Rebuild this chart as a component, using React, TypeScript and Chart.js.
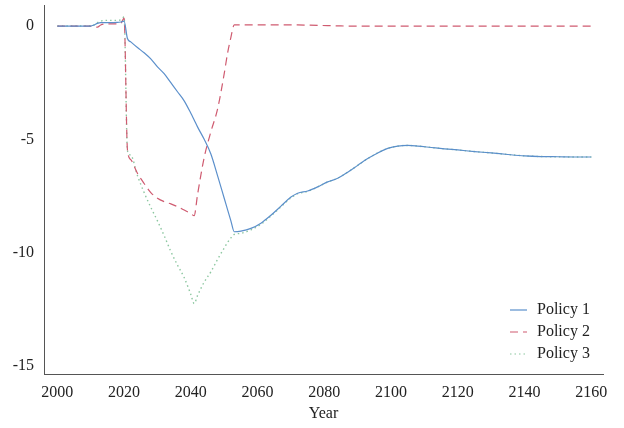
import { useEffect, useRef } from 'react';
import { Chart, registerables, Plugin } from 'chart.js';

Chart.register(...registerables);

const years = [
  2000, 2005, 2010, 2011, 2012, 2013, 2015, 2018, 2019, 2020, 2021, 2022, 2024, 2026, 2028, 2030,
  2032, 2034, 2036, 2038, 2040, 2041, 2042, 2044, 2046, 2048, 2050, 2051, 2052, 2053, 2055, 2058,
  2061, 2064, 2067, 2070, 2072, 2075, 2078, 2081, 2084, 2087, 2090, 2093, 2096, 2099, 2102, 2105,
  2108, 2112, 2116, 2120, 2125, 2130, 2135, 2140, 2145, 2150, 2155, 2160,
];

const policy1 = [
  0, 0, 0, 0.05, 0.12, 0.15, 0.15, 0.16, 0.18, 0.22, -0.55, -0.7, -0.95, -1.18, -1.45, -1.8,
  -2.1, -2.5, -2.9, -3.3, -3.85, -4.15, -4.45, -5.0, -5.65, -6.6, -7.6, -8.1, -8.6, -9.08, -9.05, -8.93,
  -8.7, -8.35, -7.95, -7.55, -7.38, -7.28, -7.1, -6.88, -6.72, -6.45, -6.15, -5.85, -5.6, -5.4, -5.3, -5.27,
  -5.3, -5.36, -5.42, -5.47, -5.54, -5.6, -5.67, -5.73, -5.76, -5.77, -5.78, -5.78,
];

const policy2 = [
  0, 0, 0, -0.02, -0.05, 0.05, 0.1, 0.1, 0.12, 0.35, -5.45, -5.9, -6.5, -6.95, -7.35, -7.6,
  -7.75, -7.85, -7.97, -8.12, -8.28, -8.37, -7.45, -5.8, -4.67, -3.67, -2.1, -1.2, -0.5, 0.05, 0.05, 0.05,
  0.05, 0.05, 0.05, 0.05, 0.05, 0.04, 0.03, 0.02, 0.01, 0, 0, 0, 0, 0, 0, 0,
  0, 0, 0, 0, 0, 0, 0, 0, 0, 0, 0, 0,
];

const policy3 = [
  0, 0, 0, 0.05, 0.15, 0.22, 0.25, 0.25, 0.28, 0.4, -5.5, -5.7, -6.6, -7.35, -8.0, -8.6,
  -9.25, -9.95, -10.55, -11.1, -11.85, -12.25, -11.9, -11.3, -10.85, -10.3, -9.8, -9.55, -9.35, -9.2, -9.15, -9.0,
  -8.75, -8.38, -7.98, -7.58, -7.4, -7.3, -7.1, -6.88, -6.72, -6.45, -6.15, -5.85, -5.6, -5.4, -5.3, -5.27,
  -5.3, -5.36, -5.42, -5.47, -5.54, -5.6, -5.67, -5.73, -5.76, -5.77, -5.78, -5.78,
];

const xTicks = [2000, 2020, 2040, 2060, 2080, 2100, 2120, 2140, 2160];
const yTicks = [-15, -10, -5, 0];

const seriesNames = ['Policy 1', 'Policy 2', 'Policy 3'];
const seriesColors = ['#5b8fcb', '#cf5b70', '#8cc7a0'];
const seriesDash: number[][] = [[], [8, 5], [1.5, 3]];

const FONT = '"Liberation Serif", "Times New Roman", serif';

const pts = (vals: number[]) => years.map((y, i) => ({ x: y, y: vals[i] }));

// legend drawn inside the plot, bottom-right
const innerLegend: Plugin<'line'> = {
  id: 'innerLegend',
  afterDraw(chart) {
    const { ctx } = chart;
    ctx.save();
    ctx.font = `16px ${FONT}`;
    ctx.textBaseline = 'middle';
    seriesNames.forEach((name, i) => {
      const y = 310 + i * 22;
      ctx.strokeStyle = seriesColors[i];
      ctx.lineWidth = 1.2;
      ctx.setLineDash(seriesDash[i]);
      ctx.beginPath();
      ctx.moveTo(510, y);
      ctx.lineTo(527, y);
      ctx.stroke();
      ctx.setLineDash([]);
      ctx.fillStyle = '#222';
      ctx.fillText(name, 537, y);
    });
    ctx.restore();
  },
};

export default function App() {
  const canvasRef = useRef<HTMLCanvasElement>(null);

  useEffect(() => {
    if (!canvasRef.current) return;
    const series = [policy1, policy2, policy3];
    const chart = new Chart(canvasRef.current, {
      type: 'line',
      data: {
        datasets: series.map((vals, i) => ({
          label: seriesNames[i],
          data: pts(vals),
          borderColor: seriesColors[i],
          borderWidth: i === 2 ? 1.4 : 1.2,
          borderDash: seriesDash[i],
          pointRadius: 0,
          cubicInterpolationMode: 'monotone' as const,
          fill: false,
        })),
      },
      options: {
        animation: false,
        responsive: false,
        layout: { padding: { top: 5, right: 21, left: 0, bottom: 0 } },
        plugins: { legend: { display: false }, tooltip: { enabled: false } },
        scales: {
          x: {
            type: 'linear',
            min: 1996,
            max: 2163.5,
            afterBuildTicks: (s) => { s.ticks = xTicks.map((v) => ({ value: v })); },
            afterFit: (s) => { s.height = 54; s.paddingLeft = 0; s.paddingRight = 0; },
            grid: { drawOnChartArea: false, drawTicks: false },
            border: { display: true, color: '#555', width: 1 },
            ticks: {
              padding: 9,
              color: '#222',
              font: { family: FONT, size: 16 },
              maxRotation: 0,
              callback: (v) => String(v),
            },
            title: {
              display: true,
              text: 'Year',
              color: '#222',
              font: { family: FONT, size: 16 },
              padding: { top: 0, bottom: 5 },
            },
          },
          y: {
            min: -15.36,
            max: 0.93,
            afterBuildTicks: (s) => { s.ticks = yTicks.map((v) => ({ value: v })); },
            afterFit: (s) => { s.width = 44; s.paddingTop = 0; s.paddingBottom = 0; },
            grid: { drawOnChartArea: false, drawTicks: false },
            border: { display: true, color: '#555', width: 1 },
            ticks: {
              padding: 10,
              color: '#222',
              font: { family: FONT, size: 16 },
              callback: (v) => String(v),
            },
          },
        },
      },
      plugins: [innerLegend],
    });
    return () => { chart.destroy(); };
  }, []);

  return (
    <div style={{ width: 624, height: 428, background: '#fff', position: 'fixed', left: 0, top: 0 }}>
      <canvas ref={canvasRef} width={624} height={428} style={{ width: 624, height: 428 }} />
    </div>
  );
}
